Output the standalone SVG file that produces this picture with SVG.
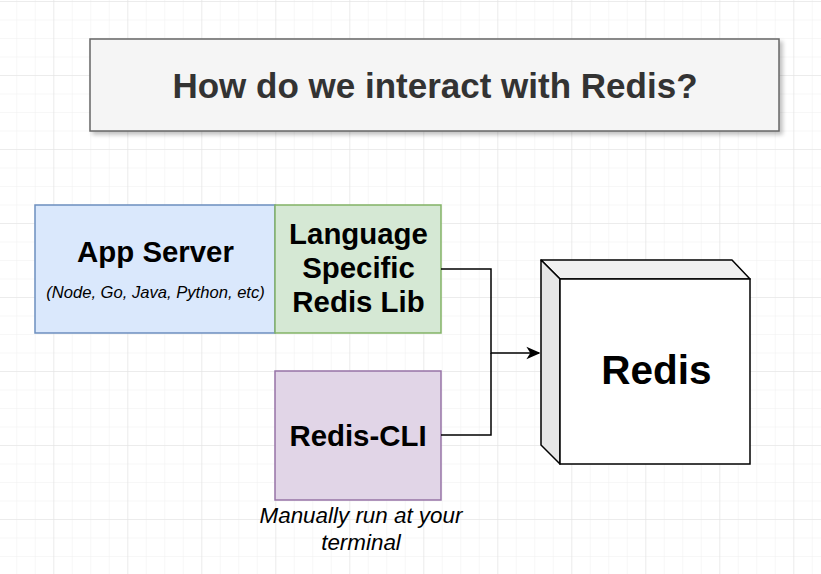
<svg xmlns="http://www.w3.org/2000/svg" width="821" height="574" viewBox="0 0 821 574">
<defs>
<pattern id="minor" x="16.3" y="1" width="18.5" height="18.5" patternUnits="userSpaceOnUse">
<path d="M0 0H18.5M0 0V18.5" fill="none" stroke="#f0f0f0" stroke-width="1"/>
</pattern>
<pattern id="major" x="53.3" y="1" width="74" height="74" patternUnits="userSpaceOnUse">
<path d="M0 0H74M0 0V74" fill="none" stroke="#e2e2e2" stroke-width="1"/>
</pattern>
<filter id="shadow" x="-5%" y="-20%" width="110%" height="150%">
<feGaussianBlur in="SourceAlpha" stdDeviation="2"/>
<feOffset dx="3" dy="3" result="b"/>
<feComponentTransfer><feFuncA type="linear" slope="0.25"/></feComponentTransfer>
<feMerge><feMergeNode/><feMergeNode in="SourceGraphic"/></feMerge>
</filter>
<marker id="arrow" viewBox="0 0 10 10" refX="9" refY="5" markerWidth="14" markerHeight="14" markerUnits="userSpaceOnUse" orient="auto">
<path d="M0 0.5L10 5L0 9.5L2.8 5Z" fill="#000"/>
</marker>
</defs>
<style>
.b{font-family:"Liberation Sans",Arial,Helvetica,sans-serif;font-weight:bold;text-anchor:middle;fill:#000}
.i{font-family:"Liberation Sans",Arial,Helvetica,sans-serif;font-style:italic;text-anchor:middle;fill:#000}
.edge{fill:none;stroke:#000;stroke-width:1.5}
</style>
<rect width="821" height="574" fill="#fff"/>
<rect width="821" height="574" fill="url(#minor)"/>
<rect width="821" height="574" fill="url(#major)"/>

<g id="title">
<rect x="90" y="39" width="689" height="92" fill="#f5f5f5" stroke="#666" stroke-width="1.5" filter="url(#shadow)"/>
<text x="435" y="98" class="b" style="font-size:35px;fill:#333">How do we interact with Redis?</text>
</g>

<g id="app-server">
<rect x="35" y="205" width="240" height="128" fill="#dae8fc" stroke="#6c8ebf" stroke-width="1.5"/>
<text x="155.5" y="262" class="b" style="font-size:29.4px">App Server</text>
<text x="155.5" y="298" class="i" style="font-size:16.6px">(Node, Go, Java, Python, etc)</text>
</g>

<g id="language-lib">
<rect x="275" y="205" width="166" height="128" fill="#d5e8d4" stroke="#82b366" stroke-width="1.5"/>
<text x="358.5" y="244" class="b" style="font-size:29.4px">Language</text>
<text x="358.5" y="278" class="b" style="font-size:29.4px">Specific</text>
<text x="358.5" y="312" class="b" style="font-size:29.4px">Redis Lib</text>
</g>

<g id="redis-cli">
<rect x="275" y="371" width="166" height="129" fill="#e1d5e7" stroke="#9673a6" stroke-width="1.5"/>
<text x="358" y="446" class="b" style="font-size:29.4px">Redis-CLI</text>
<text x="361" y="523" class="i" style="font-size:22.4px">Manually run at your</text>
<text x="361" y="550" class="i" style="font-size:22.4px">terminal</text>
</g>

<g id="redis">
<path d="M541 260H732L750 279H560Z" fill="#f0f0f0" stroke="#000" stroke-width="1.5" stroke-linejoin="round"/>
<path d="M541 260L560 279V464L541 445Z" fill="#e6e6e6" stroke="#000" stroke-width="1.5" stroke-linejoin="round"/>
<rect x="560" y="279" width="190" height="185" fill="#fff" stroke="#000" stroke-width="1.5"/>
<text x="656.5" y="384" class="b" style="font-size:40.5px">Redis</text>
</g>

<g id="connectors">
<path class="edge" d="M441 269H491V353H539" marker-end="url(#arrow)"/>
<path class="edge" d="M441 435H491V353"/>
</g>
</svg>
